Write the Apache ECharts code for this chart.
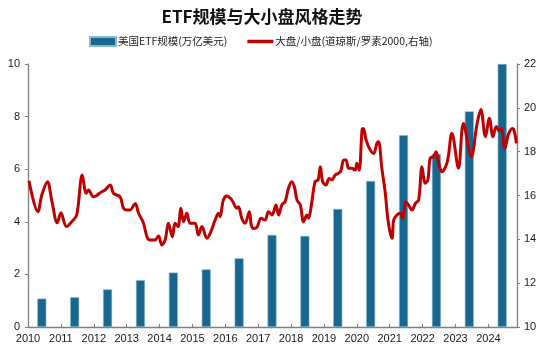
<!DOCTYPE html>
<html>
<head>
<meta charset="utf-8">
<script src="https://cdn.jsdelivr.net/npm/echarts@6/dist/echarts.min.js"></script>
<style>html,body{margin:0;padding:0;background:#fff}#c{width:550px;height:353px}</style>
</head>
<body>
<div id="c"></div>
<script>
// ETF size (trillion USD), by year
const barYears = [2010,2011,2012,2013,2014,2015,2016,2017,2018,2019,2020,2021,2022,2023,2024];
const barValues = [1.08,1.13,1.43,1.78,2.07,2.19,2.61,3.50,3.46,4.49,5.55,7.29,6.58,8.20,10.0];
// Large / small cap ratio (Dow Jones / Russell 2000), decimal year
const lineX = [2010.03,2010.30,2010.42,2010.59,2010.72,2010.89,
2011.00,2011.17,2011.33,2011.48,2011.65,2011.77,2011.84,2011.99,
2012.24,2012.34,2012.50,2012.60,2012.80,2012.90,
2013.00,2013.10,2013.26,2013.36,2013.51,2013.62,2013.71,2013.86,2013.97,
2014.07,2014.17,2014.27,2014.39,2014.47,2014.56,2014.65,2014.73,2014.83,2014.93,
2015.08,2015.18,2015.29,2015.44,2015.54,2015.69,2015.79,2015.84,2015.94,
2016.05,2016.20,2016.35,2016.40,2016.50,2016.60,2016.73,2016.79,2016.86,2016.96,
2017.09,2017.21,2017.31,2017.42,2017.54,2017.62,2017.72,2017.82,2017.92,
2018.02,2018.10,2018.18,2018.28,2018.38,2018.48,2018.53,2018.61,2018.73,2018.82,2018.89,2018.96,
2019.06,2019.16,2019.24,2019.34,2019.50,2019.60,2019.67,2019.75,2019.85,2019.95,
2020.00,2020.07,2020.16,2020.20,2020.28,2020.41,2020.51,2020.61,2020.66,2020.76,2020.86,2020.96,
2021.07,2021.12,2021.22,2021.32,2021.39,2021.49,2021.57,2021.68,2021.78,2021.88,2021.98,
2022.08,2022.16,2022.23,2022.33,2022.41,2022.49,2022.59,2022.75,2022.89,
2023.09,2023.24,2023.48,2023.65,2023.77,2023.91,
2024.03,2024.14,2024.24,2024.33,2024.39,2024.50,2024.61,2024.73,2024.79,2024.85];
const lineY = [16.67,15.26,16.02,16.63,15.79,14.76,
15.21,14.58,14.80,15.11,16.93,16.10,16.25,15.94,
16.17,16.25,16.48,16.10,15.94,15.43,
15.34,15.34,15.64,15.20,14.74,14.11,13.97,13.97,14.15,
13.74,13.97,14.73,14.12,14.73,14.58,15.42,14.80,15.19,14.73,
14.73,14.20,14.58,14.05,14.27,14.88,15.19,15.03,15.79,
15.98,15.79,15.42,15.49,14.96,14.73,15.26,14.65,14.50,14.55,
14.96,14.88,15.26,15.11,15.57,15.11,15.57,15.72,16.33,
16.63,16.40,15.79,15.57,14.80,15.11,14.96,15.49,16.63,16.71,17.31,16.63,
16.48,16.78,16.71,16.93,17.08,17.62,17.62,17.24,17.24,17.16,
17.47,17.16,19.02,19.06,18.53,18.07,17.92,18.38,18.45,17.24,16.17,14.73,
14.05,14.88,15.11,15.19,14.96,15.72,15.57,15.34,15.64,15.79,17.31,
16.56,16.71,17.70,17.77,18.00,17.47,17.08,17.54,18.84,
17.24,19.29,17.77,19.22,19.92,18.68,
19.53,18.68,19.15,18.94,19.06,18.15,18.80,19.06,18.91,18.38];
const xTicks = [2010,2011,2012,2013,2014,2015,2016,2017,2018,2019,2020,2021,2022,2023,2024];

const BAR_OFFSET = 0.42; // bars plotted around mid-year
const chart = echarts.init(document.getElementById('c'));
const axisLine = {show:true, lineStyle:{color:'#7f7f7f', width:1.3}};
const labelFont = {color:'#1a1a1a', fontSize:11, fontFamily:'Liberation Sans, Arial, sans-serif'};
chart.setOption({
  animation:false,
  title:{text:'ETF规模与大小盘风格走势', left:257, top:3, textAlign:'center',
    textStyle:{fontSize:17, fontWeight:'bold', color:'#111', fontFamily:'Noto Sans CJK SC'}},
  legend:{top:36, left:89, padding:0, itemGap:20, itemWidth:26, itemHeight:9,
    textStyle:{fontSize:10.5, color:'#222', fontFamily:'Noto Sans CJK SC', padding:[0,0,0,-3]},
    data:[{name:'美国ETF规模(万亿美元)', icon:'rect'},
          {name:'大盘/小盘(道琼斯/罗素2000,右轴)', icon:'path://M0 0H30V4H0Z'}]},
  grid:{left:28, right:33, top:64, bottom:26, containLabel:false},
  xAxis:{type:'value', min:2010, max:2024.87, interval:1,
    axisLine:axisLine, splitLine:{show:false},
    axisTick:{show:true, inside:true, length:3, lineStyle:{color:'#7f7f7f'}},
    axisLabel:Object.assign({margin:6, showMaxLabel:false,
      formatter:v => xTicks.indexOf(Math.round(v*1000)/1000) >= 0 ? String(v) : ''}, labelFont)},
  yAxis:[
    {type:'value', min:0, max:10, interval:2, axisLine:axisLine, splitLine:{show:false},
      axisTick:{show:true, length:3, lineStyle:{color:'#7f7f7f'}},
      axisLabel:Object.assign({margin:8}, labelFont)},
    {type:'value', min:10, max:22, interval:2, position:'right', axisLine:axisLine, splitLine:{show:false},
      axisTick:{show:true, length:3, lineStyle:{color:'#7f7f7f'}},
      axisLabel:Object.assign({margin:7}, labelFont)}
  ],
  series:[
    {name:'美国ETF规模(万亿美元)', type:'bar', yAxisIndex:0, barWidth:9,
      itemStyle:{color:'#17678f', borderColor:'#8fb7cc', borderWidth:0.6},
      data:barYears.map((y,i)=>[y+BAR_OFFSET, barValues[i]])},
    {name:'大盘/小盘(道琼斯/罗素2000,右轴)', type:'line', yAxisIndex:1, symbol:'none', smooth:0.35,
      lineStyle:{color:'#c00000', width:3}, itemStyle:{color:'#c00000'},
      data:lineX.map((x,i)=>[x, lineY[i]])}
  ]
});
</script>
</body>
</html>
